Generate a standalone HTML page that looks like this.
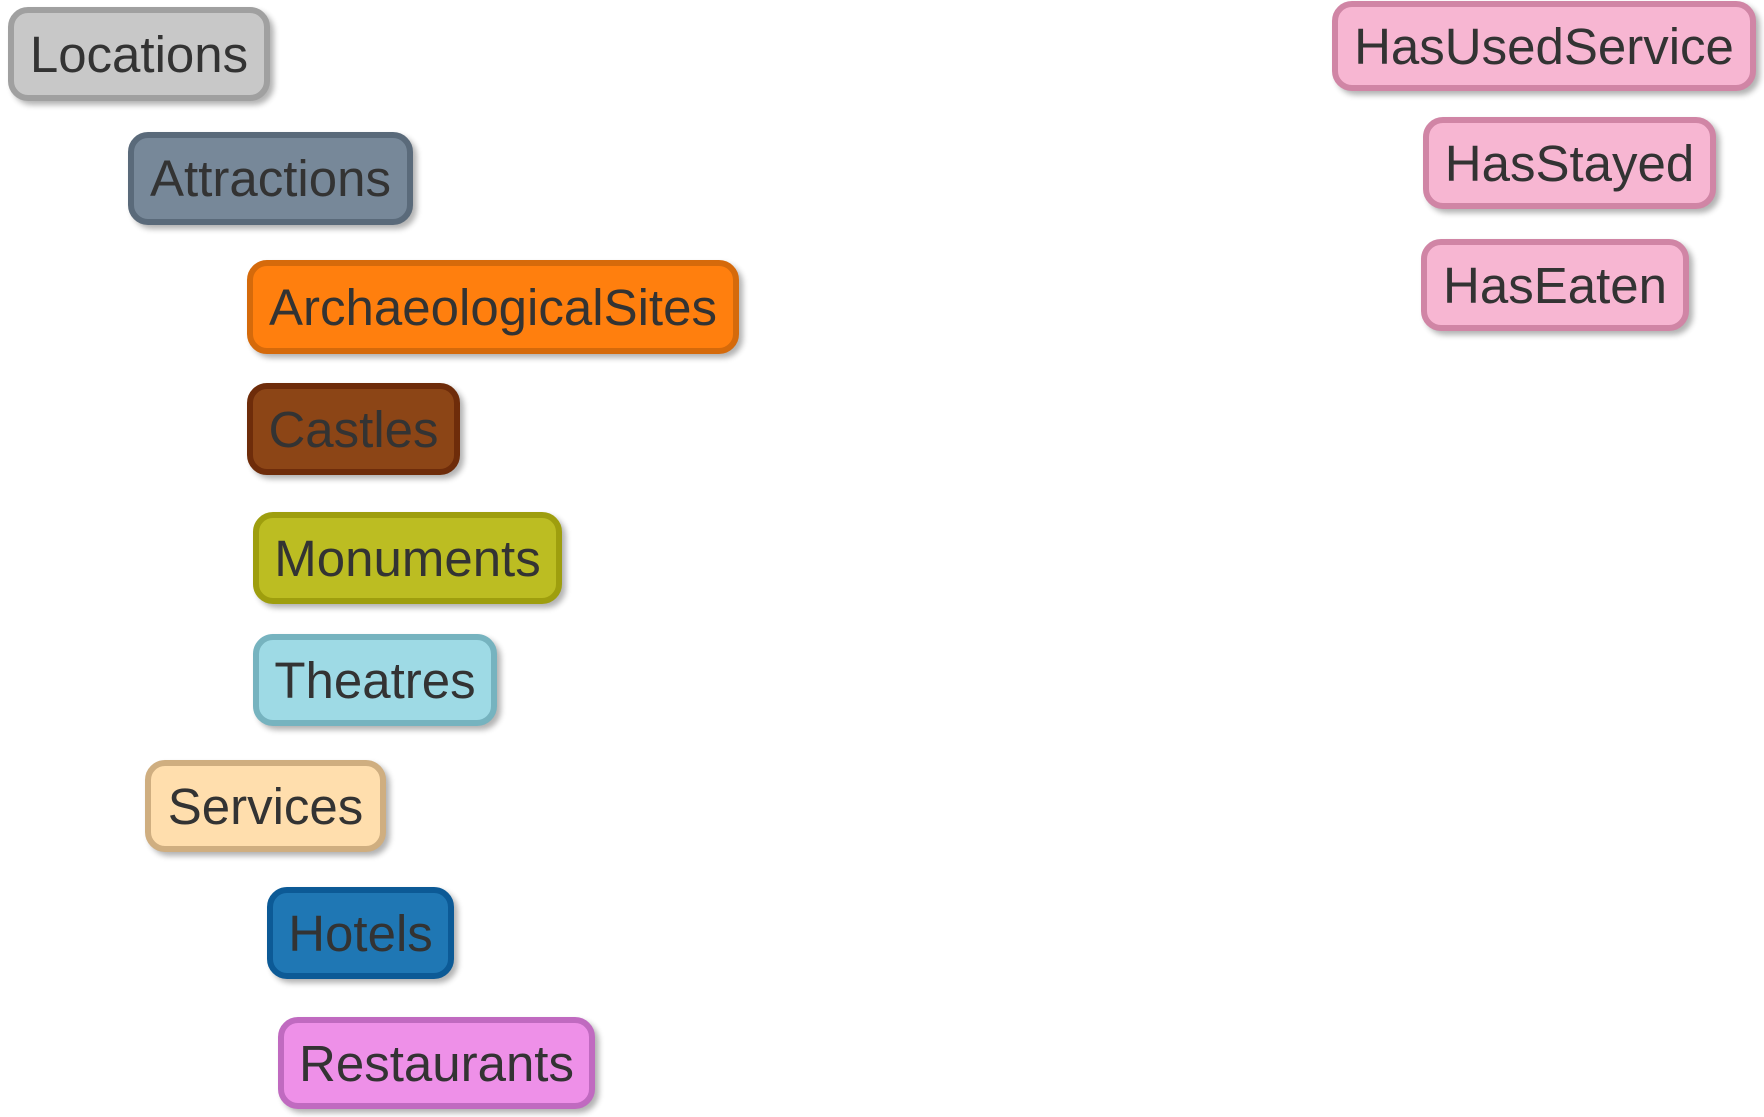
<!DOCTYPE html>
<html><head><style>
body{margin:0;width:1764px;height:1117px;background:#fff;position:relative;overflow:hidden;font-family:"Liberation Sans",sans-serif}
.n{position:absolute;box-sizing:border-box;border:6px solid;border-radius:20px;display:flex;align-items:center;justify-content:center;color:#333;font-size:51px;box-shadow:4px 4px 6px rgba(0,0,0,0.3);white-space:nowrap}
</style></head><body>
<div class="n" style="left:8px;top:7px;width:262px;height:94px;background:#c8c8c8;border-color:#a0a0a0">Locations</div>
<div class="n" style="left:128px;top:132px;width:285px;height:93px;background:#778899;border-color:#5a6a7a">Attractions</div>
<div class="n" style="left:247px;top:260px;width:492px;height:94px;background:#ff7f0e;border-color:#d56a0b">ArchaeologicalSites</div>
<div class="n" style="left:247px;top:383px;width:213px;height:92px;background:#8c4516;border-color:#6e2c0a">Castles</div>
<div class="n" style="left:253px;top:512px;width:309px;height:92px;background:#bcbd22;border-color:#9e9e0e">Monuments</div>
<div class="n" style="left:253px;top:634px;width:244px;height:92px;background:#9edae5;border-color:#76b3bf">Theatres</div>
<div class="n" style="left:145px;top:760px;width:241px;height:92px;background:#ffdead;border-color:#cfae80">Services</div>
<div class="n" style="left:267px;top:887px;width:187px;height:92px;background:#1f77b4;border-color:#0c5a96">Hotels</div>
<div class="n" style="left:278px;top:1017px;width:317px;height:92px;background:#ee90e8;border-color:#c06ac0">Restaurants</div>
<div class="n" style="left:1332px;top:1px;width:424px;height:90px;background:#f7b6d2;border-color:#d085a5">HasUsedService</div>
<div class="n" style="left:1423px;top:117px;width:293px;height:92px;background:#f7b6d2;border-color:#d085a5">HasStayed</div>
<div class="n" style="left:1421px;top:239px;width:268px;height:92px;background:#f7b6d2;border-color:#d085a5">HasEaten</div>
</body></html>
